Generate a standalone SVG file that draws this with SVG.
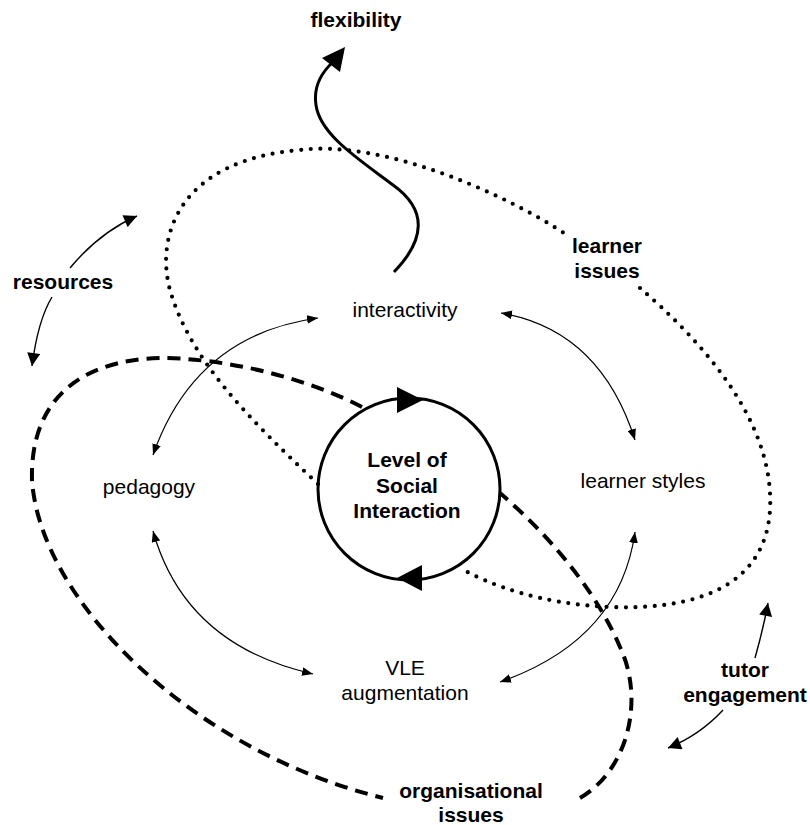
<svg xmlns="http://www.w3.org/2000/svg" width="810" height="825" viewBox="0 0 810 825">
<defs>
<style>
text{font-family:"Liberation Sans",Arial,sans-serif;font-size:21px;fill:#000;text-anchor:middle}
.b{font-weight:bold}
.dot{fill:none;stroke:#000;stroke-width:4.2;stroke-linecap:round;stroke-dasharray:0 9.6}
.dash{fill:none;stroke:#000;stroke-width:4;stroke-dasharray:13 8}
.thin{fill:none;stroke:#000;stroke-width:1.2}
.mid{fill:none;stroke:#000;stroke-width:1.4}
.thick{fill:none;stroke:#000;stroke-width:3}
</style>
<marker id="sm" viewBox="0 0 10 8" refX="10" refY="4" markerUnits="userSpaceOnUse" markerWidth="11" markerHeight="9" orient="auto-start-reverse"><path d="M0,0 L10,4 L0,8 z" fill="#000"/></marker>
<marker id="md" viewBox="0 0 10 10" refX="10" refY="5" markerUnits="userSpaceOnUse" markerWidth="15" markerHeight="13" orient="auto"><path d="M0,0 L10,5 L0,10 z" fill="#000"/></marker>
</defs>
<rect width="810" height="825" fill="#fff"/>
<g id="connectors">
<path id="learner-issues-loop" class="dot" d="M318,484 C250,420 190,360 170,290 C155,235 180,160 300,150 C380,140 500,190 570,237 M640,288 C700,340 775,420 770,510 C765,590 690,610 610,607 C540,604 490,585 460,568"/>
<path id="organisational-loop" class="dash" d="M362,407 C300,375 220,358 160,358 C80,360 30,400 32,480 C40,600 190,750 383,798 M580,798 C628,770 645,700 620,647 C600,600 560,545 500,493"/>
<path id="flex-arrow" class="thick" d="M394,272 C425,240 428,210 393,185 C360,160 320,135 316,105 C313,85 322,72 333,62"/>
<polygon points="345,47 322,58 340,72" fill="#000"/>
<path class="thin" marker-start="url(#sm)" marker-end="url(#sm)" d="M153,455 Q195,335 318,318"/>
<path class="thin" marker-start="url(#sm)" marker-end="url(#sm)" d="M501,313 Q600,330 635,440"/>
<path class="thin" marker-start="url(#sm)" marker-end="url(#sm)" d="M153,531 Q185,645 313,674"/>
<path class="thin" marker-start="url(#sm)" marker-end="url(#sm)" d="M635,532 Q620,640 500,682"/>
<path class="mid" marker-end="url(#md)" d="M70,268 Q100,232 137,216"/>
<path class="mid" marker-end="url(#md)" d="M52,297 Q38,320 32,366"/>
<path class="mid" marker-end="url(#md)" d="M755,658 Q763,630 768,603"/>
<path class="mid" marker-end="url(#md)" d="M723,710 Q700,735 668,748"/>
</g>
<g id="social-interaction">
<circle cx="409" cy="489" r="91" class="thick"/>
<polygon points="423,400 397,387 397,413" fill="#000"/>
<polygon points="397,578 422,565 422,591" fill="#000"/>
<text class="b" x="407" y="467">Level of</text>
<text class="b" x="407" y="493">Social</text>
<text class="b" x="407" y="518">Interaction</text>
</g>
<g id="interactivity"><text x="405" y="317">interactivity</text></g>
<g id="pedagogy"><text x="149" y="494">pedagogy</text></g>
<g id="learner-styles"><text x="643" y="488">learner styles</text></g>
<g id="vle"><text x="405" y="675">VLE</text><text x="405" y="700">augmentation</text></g>
<g id="flexibility"><text class="b" x="356" y="27">flexibility</text></g>
<g id="resources"><text class="b" x="63" y="289">resources</text></g>
<g id="learner-issues"><text class="b" x="607" y="253">learner</text><text class="b" x="607" y="278">issues</text></g>
<g id="tutor-engagement"><text class="b" x="745" y="677">tutor</text><text class="b" x="745" y="702">engagement</text></g>
<g id="organisational-issues"><text class="b" x="471" y="798">organisational</text><text class="b" x="471" y="822">issues</text></g>
</svg>
